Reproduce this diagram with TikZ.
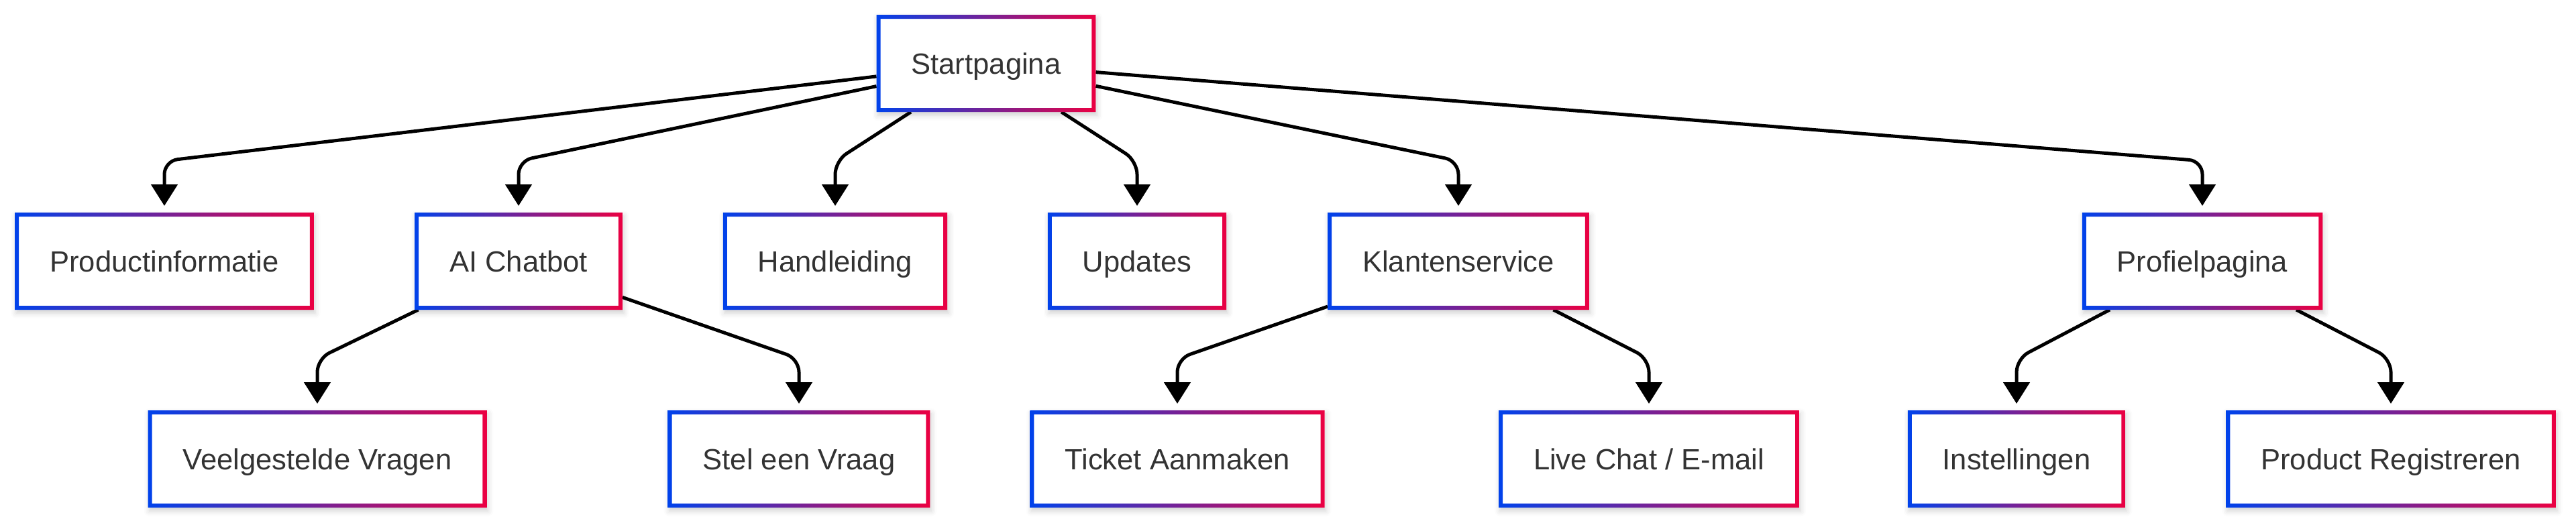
\documentclass[tikz,border=0pt]{standalone}
\usepackage{fontspec}
\setmainfont{Liberation Sans}
\usetikzlibrary{arrows.meta,shadows.blur}
\definecolor{gradleft}{HTML}{0042EB}
\definecolor{gradright}{HTML}{EB0042}
\definecolor{labeltext}{HTML}{333333}
\tikzset{
  page/.style={rectangle, fill=white, text=labeltext,
    font=\fontsize{12.4}{14}\selectfont, text height=0.312cm, text depth=0pt,
    inner xsep=0.52cm, inner ysep=0pt, minimum height=1.45cm, outer sep=0pt,
    blur shadow={shadow xshift=0.02cm, shadow yshift=-0.05cm,
      shadow opacity=18, shadow blur radius=0.08cm, shadow blur extra rounding=0pt}},
  link/.style={line width=0.05cm, -{Triangle[length=0.32cm,width=0.39cm]},
    rounded corners=0.2cm, shorten >=0.1cm},
  rim/.style={left color=gradleft, right color=gradright, even odd rule}
}

\begin{document}
\begin{tikzpicture}
  \useasboundingbox (0,0) rectangle (38.40,-7.82);
  % pages, row by row
  \foreach \id/\txt/\x/\y in {start/Startpagina/14.70/-0.945,
      prod/Productinformatie/2.45/-3.895, chat/AI Chatbot/7.73/-3.895,
      guide/Handleiding/12.45/-3.895, upd/Updates/16.95/-3.895,
      klant/Klantenservice/21.74/-3.895, prof/Profielpagina/32.83/-3.895,
      faq/Veelgestelde Vragen/4.73/-6.845, ask/Stel een Vraag/11.91/-6.845,
      ticket/Ticket Aanmaken/17.55/-6.845, live/{Live Chat / E-mail}/24.58/-6.845,
      sett/Instellingen/30.06/-6.845, reg/Product Registreren/35.64/-6.845} {
    \node[page] (\id) at (\x,\y) {\txt};
  }
  % connectors
  \foreach \p/\c in {start/prod, start/chat, start/guide, start/upd, start/klant,
      start/prof, chat/faq, chat/ask, klant/ticket, klant/live, prof/sett, prof/reg} {
    \draw[link] (\p) -- ([yshift=0.77cm]\c.north) -- (\c.north);
  }
  % gradient borders
  \foreach \n in {start, prod, chat, guide, upd, klant, prof, faq, ask, ticket, live, sett, reg} {
    \shade[rim] (\n.south west) rectangle (\n.north east)
      ([shift={(0.06,0.06)}]\n.south west) rectangle ([shift={(-0.06,-0.06)}]\n.north east);
  }
\end{tikzpicture}
\end{document}
